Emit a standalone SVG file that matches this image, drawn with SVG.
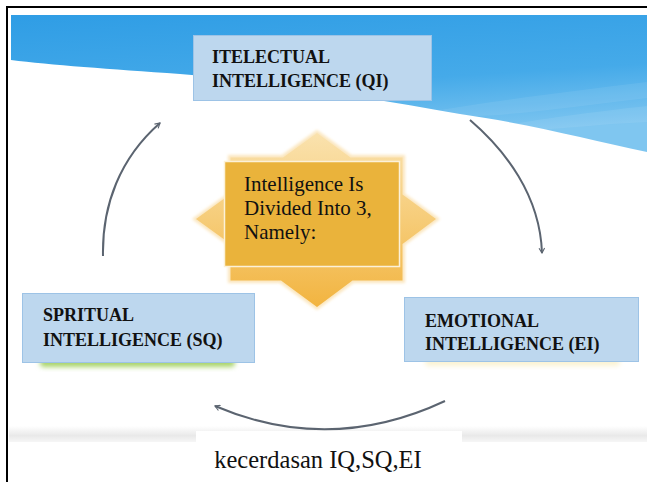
<svg xmlns="http://www.w3.org/2000/svg" width="647" height="482" viewBox="0 0 647 482">
<defs>
<linearGradient id="sky" x1="0" y1="0" x2="0.3" y2="1">
<stop offset="0" stop-color="#2F9DE5"/>
<stop offset="0.6" stop-color="#45AAE9"/>
<stop offset="1" stop-color="#7FC6F0"/>
</linearGradient>
<linearGradient id="starg" x1="0" y1="0" x2="0" y2="1">
<stop offset="0" stop-color="#FAE2AE"/>
<stop offset="0.5" stop-color="#F6CC78"/>
<stop offset="1" stop-color="#F2B440"/>
</linearGradient>
<linearGradient id="band" x1="0" y1="0" x2="0" y2="1">
<stop offset="0" stop-color="#FFFFFF"/>
<stop offset="0.6" stop-color="#E9E9E9"/>
<stop offset="1" stop-color="#F6F6F6"/>
</linearGradient>
<filter id="soft" x="-10%" y="-10%" width="120%" height="120%">
<feGaussianBlur stdDeviation="1.5"/>
</filter>
<filter id="blur3" x="-20%" y="-50%" width="140%" height="200%">
<feGaussianBlur stdDeviation="2.5"/>
</filter>
<marker id="ah" viewBox="0 0 10 10" refX="8" refY="5" markerWidth="7" markerHeight="7" orient="auto" markerUnits="userSpaceOnUse">
<path d="M1,1 L8,5 L1,9" fill="none" stroke="#5B6470" stroke-width="1.6"/>
</marker>
</defs>
<style>
.node{fill:#BDD7EE;stroke:#9DC3E6;stroke-width:1}
.lbl{font-family:"Liberation Serif","Times New Roman",serif;font-weight:bold;font-size:18px;fill:#111}
.ctr{font-family:"Liberation Serif","Times New Roman",serif;font-size:21px;fill:#111}
.conn{fill:none;stroke:#5B6470;stroke-width:2;marker-end:url(#ah)}
</style>
<rect x="0" y="0" width="647" height="482" fill="#FFFFFF"/>
<g id="background">
<path d="M11,15 H647 V152 C590,140 530,124 460,114 C370,98 260,80 180,74 C110,69 50,65 11,60 Z" fill="url(#sky)"/>
<path d="M440,110 C500,100 580,90 647,82 V98 C580,106 510,116 470,116 Z" fill="#FFFFFF" opacity="0.07"/>
<path d="M500,126 C560,116 610,110 647,106 V122 C600,124 550,130 520,131 Z" fill="#FFFFFF" opacity="0.08"/>
<rect x="9" y="426" width="638" height="16" fill="url(#band)"/>
<line x1="7" y1="6" x2="7" y2="482" stroke="#000" stroke-width="2"/>
<line x1="6" y1="7" x2="647" y2="7" stroke="#000" stroke-width="2"/>
</g>
<g id="connectors">
<path class="conn" d="M103,256 C102,205 120,158 160,123"/>
<path class="conn" d="M470,120 C505,150 540,195 542,253"/>
<path class="conn" d="M445,401 Q330,455 215,406"/>
</g>
<g id="center">
<path d="M317,130 L351.5,155 L405,155 L405,193.7 L440,219 L405,244.9 L405,283 L353.5,283 L317,310 L280,283 L228,283 L228,245.2 L192,219 L228,193.4 L228,155 L282,155 Z" fill="#FBE6BE" filter="url(#soft)"/>
<path d="M317,133 L350.5,157.5 L402.5,157.5 L402.5,194.5 L436,219 L402.5,244 L402.5,280.5 L352.5,280.5 L317,307 L281,280.5 L230.5,280.5 L230.5,244 L196,219 L230.5,194 L230.5,157.5 L283,157.5 Z" fill="url(#starg)"/>
<rect x="224.5" y="161.5" width="175" height="105" fill="#EAB33B" stroke="#FCF1D8" stroke-width="1.5"/>
<text class="ctr" x="244" y="191">Intelligence Is</text>
<text class="ctr" x="244" y="215">Divided Into 3,</text>
<text class="ctr" x="244" y="239">Namely:</text>
</g>
<g id="qi">
<rect class="node" x="193.5" y="35.5" width="238" height="65"/>
<text class="lbl" x="212" y="63">ITELECTUAL</text>
<text class="lbl" x="212" y="87">INTELLIGENCE (QI)</text>
</g>
<g id="sq">
<rect x="40" y="358" width="195" height="9" rx="4" fill="#A9D46A" filter="url(#blur3)"/>
<rect class="node" x="22.5" y="293.5" width="232" height="69"/>
<text class="lbl" x="43" y="321">SPRITUAL</text>
<text class="lbl" x="43" y="346">INTELLIGENCE (SQ)</text>
</g>
<g id="ei">
<rect x="425" y="358" width="195" height="8" rx="4" fill="#FBF3D2" filter="url(#blur3)"/>
<rect class="node" x="404.5" y="297.5" width="234" height="64"/>
<text class="lbl" x="425" y="327">EMOTIONAL</text>
<text class="lbl" x="425" y="350">INTELLIGENCE (EI)</text>
</g>
<g id="caption">
<rect x="196" y="431" width="266" height="51" fill="#FFFFFF"/>
<text x="318" y="468" text-anchor="middle" font-family="'Liberation Serif','Times New Roman',serif" font-size="24.5" fill="#111">kecerdasan IQ,SQ,EI</text>
</g>
</svg>
